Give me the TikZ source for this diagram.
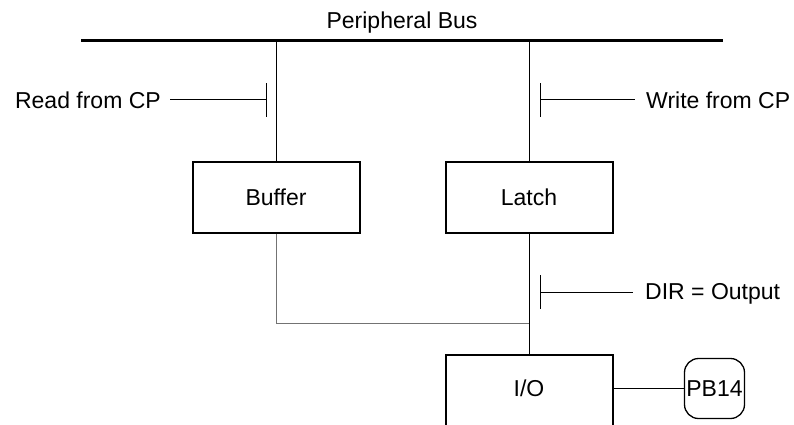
\documentclass[tikz,border=0pt]{standalone}
\usepackage{fontspec}
\setmainfont{Liberation Sans}
\begin{document}
\begin{tikzpicture}[x=1pt,y=-1pt,
  txt/.style={font=\fontsize{23}{27}\selectfont, inner sep=0pt},
  blk/.style={draw, line width=2pt, minimum width=167pt, minimum height=71pt, txt},
  wire/.style={line width=1pt},
  bar/.style={line width=1pt},
  ]
\clip (0,0) rectangle (794,424);
\fill[white] (0,0) rectangle (794,424);

% bus
\coordinate (busL) at (81,40);
\coordinate (busR) at (723,40);
\draw[line width=3pt] (busL) -- (busR);
\node[txt, anchor=base] (title) at (402,28) {Peripheral Bus};

% blocks
\node[blk] (Buffer) at (276,197) {Buffer};
\node[blk] (Latch) at (529,197) {Latch};
\node[draw, line width=2pt, minimum width=167pt, minimum height=90pt, anchor=north] (IO) at (529,354) {};
\node[txt] (IOtext) at (529,388) {I/O};
\node[draw, line width=1.3pt, rounded corners=14pt, minimum width=60pt, minimum height=60pt, txt] (PB) at (714.5,388.5) {PB14};

% taps from bus
\coordinate (tapL) at (276,40);
\coordinate (tapR) at (529,40);
\draw[wire] (tapL) -- (Buffer.north);
\draw[wire] (tapR) -- (Latch.north);
\draw[wire] (Latch.south) -- (IO.north);
\coordinate (junc) at (529,323);
\draw[wire, black!55] (Buffer.south) |- (junc);
\draw[wire] (IO.east |- PB.west) -- (PB.west);

% Read from CP
\coordinate (rT) at (266,83);
\coordinate (rB) at (266,117);
\coordinate (rM) at (266,99);
\coordinate (rE) at (170,99);
\draw[bar] (rT) -- (rB);
\draw[wire] (rE) -- (rM);
\node[txt, anchor=base east] (readtxt) at (161,108) {Read from CP};

% Write from CP
\coordinate (wT) at (540,83);
\coordinate (wB) at (540,117);
\coordinate (wM) at (540,99);
\coordinate (wE) at (635,99);
\draw[bar] (wT) -- (wB);
\draw[wire] (wM) -- (wE);
\node[txt, anchor=base west] (writetxt) at (646,108) {Write from CP};

% DIR = Output
\coordinate (dT) at (540,275);
\coordinate (dB) at (540,309);
\coordinate (dM) at (540,292);
\coordinate (dE) at (633,292);
\draw[bar] (dT) -- (dB);
\draw[wire] (dM) -- (dE);
\node[txt, anchor=base west] (dirtxt) at (645,299) {DIR = Output};
\end{tikzpicture}
\end{document}
